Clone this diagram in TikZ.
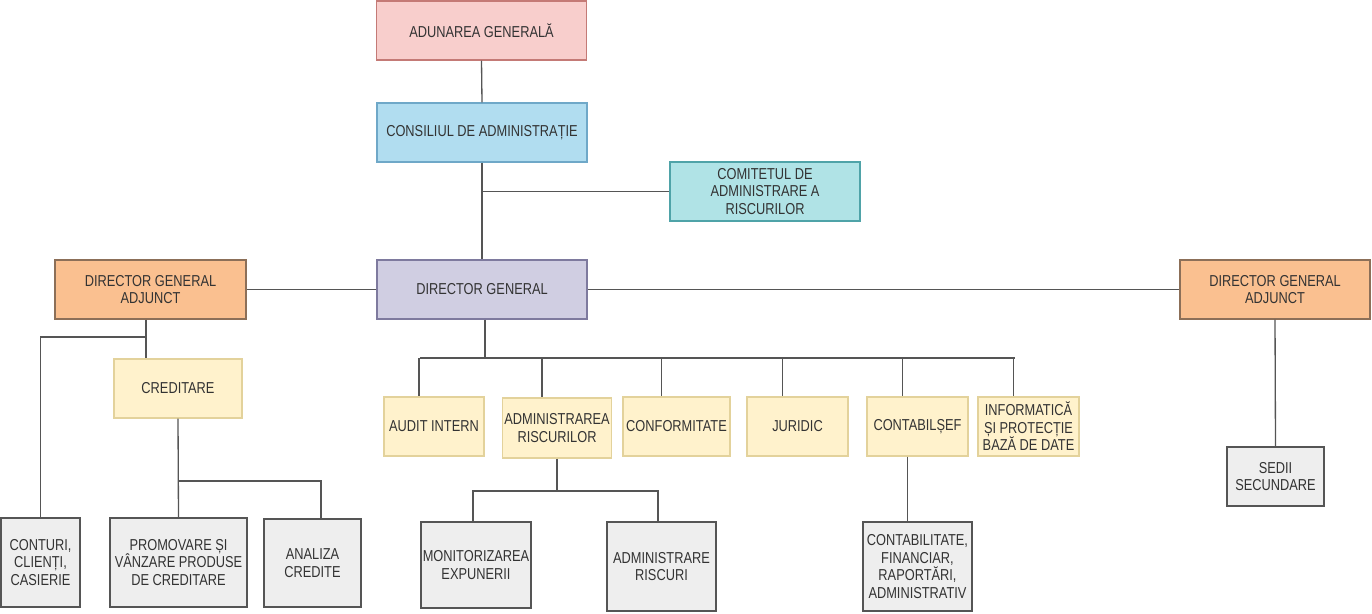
\documentclass[tikz,border=0pt]{standalone}
\usepackage{fontspec}
\setmainfont{Liberation Sans}[FakeStretch=0.81]
\usepackage{tikz}
\usetikzlibrary{
  positioning,
  calc,
}
\definecolor{txtgray}{HTML}{333333}
\definecolor{linegray}{HTML}{555555}
\definecolor{agFill}{HTML}{F8CECC}
\definecolor{agDraw}{HTML}{C47A76}
\definecolor{caFill}{HTML}{B1DDF0}
\definecolor{caDraw}{HTML}{6FA8C8}
\definecolor{comFill}{HTML}{B0E3E6}
\definecolor{comDraw}{HTML}{4FA3A8}
\definecolor{dgFill}{HTML}{D0CEE2}
\definecolor{dgDraw}{HTML}{7E7A9E}
\definecolor{dgaFill}{HTML}{FAC090}
\definecolor{dgaDraw}{HTML}{8C6F58}
\definecolor{deptFill}{HTML}{FFF2CC}
\definecolor{deptDraw}{HTML}{E3D29B}
\definecolor{unitFill}{HTML}{EEEEEE}
\definecolor{unitDraw}{HTML}{555555}
\tikzset{
  orgbox/.style={
    rectangle, line width=0.7pt, inner sep=1pt, align=center,
    text=txtgray, font=\fontsize{9}{10}\selectfont,
  },
  topbox/.style={
    orgbox, fill=#1Fill, draw=#1Draw,
    minimum width=4.2cm, minimum height=1.18cm,
  },
  deptbox/.style={
    orgbox, fill=deptFill, draw=deptDraw,
    minimum width=#1, minimum height=1.18cm,
  },
  unitbox/.style={
    orgbox, fill=unitFill, draw=unitDraw,
    minimum width=#1, minimum height=1.78cm,
  },
  link/.style={
    draw=linegray, line width=0.75pt,
  },
}

\begin{document}
\begin{tikzpicture}[x=0.02cm, y=-0.02cm]
\useasboundingbox (0,0) rectangle (1372,614);

% Conducere
\node[topbox=ag] (ag) at (481.5, 30.5) {ADUNAREA GENERALĂ};
\node[topbox=ca] (ca) at (482, 132.5) {CONSILIUL DE ADMINISTRAȚIE};
\node[topbox=com, minimum width=3.8cm] (com) at (765, 191.5)
   {COMITETUL DE\\ADMINISTRARE A\\RISCURILOR};
\node[topbox=dg] (dg) at (482, 289.5) {DIRECTOR GENERAL};
\node[topbox=dga, minimum width=3.82cm] (dgal) at (150.5, 289.5)
   {DIRECTOR GENERAL\\ADJUNCT};
\node[topbox=dga, minimum width=3.8cm] (dgar) at (1275, 289.5)
   {DIRECTOR GENERAL\\ADJUNCT};

% Departamente
\node[deptbox=2.56cm] (cred) at (178, 388.5) {CREDITARE};
\node[deptbox=2.0cm] (audit) at (434, 426.5) {AUDIT INTERN};
\node[deptbox=2.16cm, minimum height=1.2cm] (admr) at (557, 428)
   {ADMINISTRAREA\\RISCURILOR};
\node[deptbox=2.14cm] (conf) at (676.5, 426.5) {CONFORMITATE};
\node[deptbox=2.02cm] (jur) at (797.5, 426.5) {JURIDIC};
\node[deptbox=2.02cm] (csef) at (917.5, 426.5) {CONTABILȘEF};
\node[deptbox=2.02cm] (info) at (1028.5, 426.5)
   {INFORMATICĂ\\ȘI PROTECȚIE\\BAZĂ DE DATE};

% Compartimente
\node[unitbox=1.58cm] (cont) at (40.5, 562.5) {CONTURI,\\CLIENȚI,\\CASIERIE};
\node[unitbox=2.74cm] (prom) at (178.5, 562.5)
   {PROMOVARE ȘI\\VÂNZARE PRODUSE\\DE CREDITARE};
\node[unitbox=1.94cm, minimum height=1.76cm] (anal) at (312.5, 563)
   {ANALIZA\\CREDITE};
\node[unitbox=2.2cm, minimum height=1.72cm] (mon) at (476, 565)
   {MONITORIZAREA\\EXPUNERII};
\node[unitbox=2.18cm] (adri) at (661.5, 566.5) {ADMINISTRARE\\RISCURI};
\node[unitbox=2.18cm] (ctb) at (917.5, 566.5)
   {CONTABILITATE,\\FINANCIAR,\\RAPORTĂRI,\\ADMINISTRATIV};
\node[unitbox=1.94cm, minimum height=1.18cm] (sedii) at (1275.5, 476.5)
   {SEDII\\SECUNDARE};

% Legaturi conducere
\draw[link] (ag.south) -- (ca.north);
\draw[link] (ca.south) -- (dg.north);
\draw[link] (ca.south |- com.west) -- (com.west);
\draw[link] (dg.west) -- (dgal.east);
\draw[link] (dg.east) -- (dgar.west);
\draw[link] (dgar.south) -- (sedii.north);

% Magistrala sub directorul general
\coordinate (busdg) at (485, 358);
\draw[link] (dg.south -| busdg) -- (busdg);
\draw[link] ([xshift=-0.28cm]audit.north |- busdg)
   -- ([xshift=-0.28cm]info.north |- busdg);
\foreach \dep in {audit, admr, conf, jur, csef, info}
{
  \draw[link] ([xshift=-0.3cm]\dep.north |- busdg) -- ([xshift=-0.3cm]\dep.north);
}

% Director general adjunct (stanga)
\coordinate (jl) at (146, 337);
\draw[link] (dgal.south -| jl) -- (jl);
\draw[link] (jl) -- (jl -| cont.north) -- (cont.north);
\draw[link] (jl) -- (jl |- cred.north);

% Creditare
\coordinate (jc) at (178, 481);
\draw[link] (cred.south) -- (prom.north);
\draw[link] (jc) -| ([xshift=0.17cm]anal.north);

% Administrarea riscurilor
\coordinate (ja) at (557, 491);
\draw[link] (admr.south) -- (ja);
\draw[link] ([xshift=-0.06cm]mon.north) |- (ja) -| ([xshift=-0.07cm]adri.north);

% Contabil sef
\draw[link] ([xshift=-0.2cm]csef.south) -- ([xshift=-0.2cm]csef.south |- ctb.north);

\end{tikzpicture}
\end{document}
